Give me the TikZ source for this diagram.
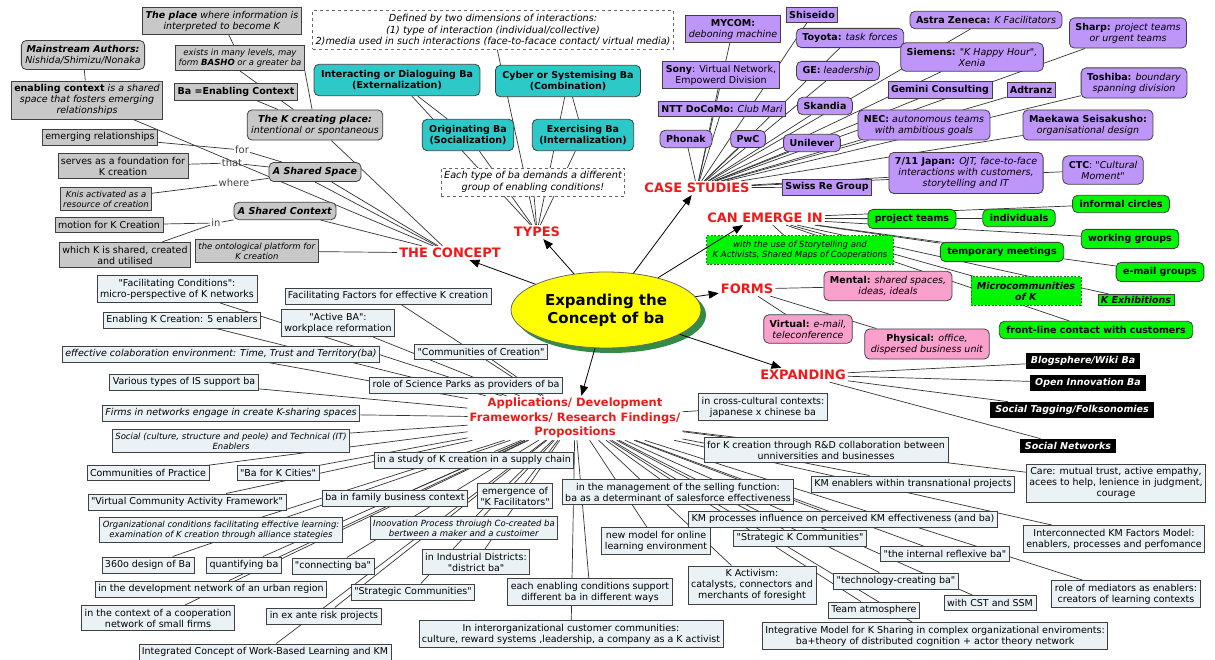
\documentclass[tikz,border=0pt]{standalone}
\usepackage{fontspec}
\setmainfont{DejaVu Sans}[Ligatures=TeXOff]
\usetikzlibrary{arrows.meta,shapes.geometric,shadows,backgrounds}

\definecolor{graybg}{RGB}{200,200,200}
\definecolor{tealbg}{RGB}{45,200,200}
\definecolor{purplebg}{RGB}{190,150,250}
\definecolor{greenbg}{RGB}{0,245,0}
\definecolor{pinkbg}{RGB}{250,160,205}
\definecolor{palebg}{RGB}{234,242,246}
\definecolor{headred}{RGB}{240,25,25}
\definecolor{yellowbg}{RGB}{255,255,0}
\definecolor{shadowgreen}{RGB}{50,140,70}

\tikzset{
  base/.style={draw=black!75, line width=0.8pt, align=center, inner xsep=3pt, inner ysep=3.5pt, font=\fontsize{9.5}{11}\selectfont},
  smalltext/.style={font=\fontsize{8.5}{10}\selectfont},
  grayrect/.style={base, fill=graybg},
  grayround/.style={base, fill=graybg, rounded corners=5pt, inner xsep=4pt, inner ysep=5pt},
  linkword/.style={font=\fontsize{10}{11}\selectfont, text=black!75, inner sep=1pt},
  head/.style={text=headred, inner sep=2pt, font=\bfseries\fontsize{13}{15}\selectfont},
  note/.style={base, draw=black!60, dashed, fill=white, font=\fontsize{9.7}{11.5}\selectfont\itshape},
  typebox/.style={base, fill=tealbg, rounded corners=5pt, inner xsep=7pt, inner ysep=6pt, font=\bfseries\fontsize{9.5}{11}\selectfont},
  caserect/.style={base, fill=purplebg},
  caseround/.style={base, fill=purplebg, rounded corners=5pt, inner xsep=6pt, inner ysep=5pt},
  emergebox/.style={base, fill=greenbg, rounded corners=5pt, inner xsep=7pt, inner ysep=5pt, font=\bfseries\fontsize{9.5}{11}\selectfont},
  emergenote/.style={base, fill=greenbg, draw=green!55!black, dash pattern=on 2pt off 1.5pt, inner xsep=6pt, inner ysep=5pt},
  formbox/.style={base, fill=pinkbg, rounded corners=5pt, inner xsep=6pt, inner ysep=5pt},
  expbox/.style={fill=black, text=white, inner xsep=5pt, inner ysep=3.5pt, font=\bfseries\itshape\fontsize{9.5}{11}\selectfont},
  appbox/.style={base, fill=palebg},
  link/.style={draw=black!80, line width=0.7pt},
}

\begin{document}
\begin{tikzpicture}[x=1pt, y=-1pt, >={Triangle[length=10pt,width=8pt]}]
\useasboundingbox (0,0) rectangle (1215,660);

% the concept
\node[grayrect] (place) at (222,21) {\textbf{\textit{The place}} \textit{where information is}\\\textit{interpreted to become K}};
\node[grayround] (authors) at (83,55) {\textbf{\textit{Mainstream Authors:}}\\\textit{Nishida/Shimizu/Nonaka}};
\node[grayrect, smalltext] (exists) at (240,58) {\textit{exists in many levels, may}\\\textit{form \textbf{BASHO} or a greater ba}};
\node[grayrect] (enabling) at (87,100) {\textbf{enabling context} \textit{is a shared}\\\textit{space that fosters emerging}\\\textit{relationships}};
\node[grayrect] (baec) at (236,92) {\textbf{Ba =Enabling Context}};
\node[grayround] (kplace) at (315,125) {\textbf{\textit{The K creating place:}}\\\textit{intentional or spontaneous}};
\node[grayrect] (emerging) at (100,137) {emerging relationships};
\node[grayrect] (serves) at (123,166) {serves as a foundation for\\K creation};
\node[grayrect, smalltext] (knis) at (106,199) {\textit{Knis activated as a}\\\textit{resource of creation}};
\node[grayround] (space) at (315,172) {\textbf{\textit{A Shared Space}}};
\node[grayround] (context) at (285,211) {\textbf{\textit{A Shared Context}}};
\node[grayrect] (motion) at (109,225) {motion for K Creation};
\node[grayrect] (which) at (125,255) {which K is shared, created\\and utilised};
\node[grayrect, smalltext] (onto) at (257,251) {\textit{the ontological platform for}\\\textit{K creation}};
\node[linkword] (for) at (242,150) {for};
\node[linkword] (that) at (232,163) {that};
\node[linkword] (where) at (234,183) {where};
\node[linkword] (in) at (216,223) {in};
\node[head] (concept) at (450,253) {THE CONCEPT};

% types
\node[note] (defined) at (493,30) {Defined by two dimensions of interactions:\\(1) type of interaction (individual/collective)\\2)media used in such interactions (face-to-facace contact/ virtual media)};
\node[typebox] (interact) at (397,80) {Interacting or Dialoguing Ba\\(Externalization)};
\node[typebox] (cyber) at (568,81) {Cyber or Systemising Ba\\(Combination)};
\node[typebox] (origin) at (468,135) {Originating Ba\\(Socialization)};
\node[typebox] (exercise) at (583,135) {Exercising Ba\\(Internalization)};
\node[note] (eachtype) at (533,182) {Each type of ba demands a different\\group of enabling conditions!};
\node[head] (types) at (537,232) {TYPES};

% centre
\node[ellipse, draw=black!60, line width=0.8pt, fill=yellowbg, minimum width=190pt, minimum height=76pt, align=center,
  drop shadow={shadow xshift=5pt, shadow yshift=-5pt, fill=shadowgreen, opacity=1},
  font=\bfseries\fontsize{15}{18}\selectfont] (ba) at (606,310) {Expanding the\\Concept of ba};

% case studies
\node[head] (case) at (697,188) {CASE STUDIES};
\node[caserect] (mycom) at (733,29) {\textbf{MYCOM:}\\\textit{deboning machine}};
\node[caserect] (shiseido) at (812,15) {\textbf{Shiseido}};
\node[caseround] (toyota) at (850,38) {\textbf{Toyota:} \textit{task forces}};
\node[caserect] (sony) at (721,75) {\textbf{Sony}: Virtual Network,\\Empowerd Division};
\node[caseround] (ge) at (838,71) {\textbf{GE:} \textit{leadership}};
\node[caserect] (docomo) at (722,109) {\textbf{NTT DoCoMo:} \textit{Club Mari}};
\node[caseround] (skandia) at (825,106) {\textbf{Skandia}};
\node[caserect] (gemini) at (940,90) {\textbf{Gemini Consulting}};
\node[caserect] (adtranz) at (1031,90) {\textbf{Adtranz}};
\node[caseround] (astra) at (986,20) {\textbf{Astra Zeneca:} \textit{K Facilitators}};
\node[caseround] (sharp) at (1128,33) {\textbf{Sharp:} \textit{project teams}\\\textit{or urgent teams}};
\node[caseround] (siemens) at (972,57) {\textbf{Siemens:} \textit{"K Happy Hour",}\\\textit{Xenia}};
\node[caseround] (toshiba) at (1134,83) {\textbf{Toshiba:} \textit{boundary}\\\textit{spanning division}};
\node[caseround] (nec) at (924,125) {\textbf{NEC:} \textit{autonomous teams}\\\textit{with ambitious goals}};
\node[caseround] (maekawa) at (1088,125) {\textbf{Maekawa Seisakusho:}\\\textit{organisational design}};
\node[caseround] (phonak) at (686,139) {\textbf{Phonak}};
\node[caseround] (pwc) at (748,139) {\textbf{PwC}};
\node[caseround] (unilever) at (812,143) {\textbf{Unilever}};
\node[caseround] (seven) at (966,173) {\textbf{7/11 Japan:} \textit{OJT, face-to-face}\\\textit{interactions with customers,}\\\textit{storytelling and IT}};
\node[caseround] (ctc) at (1103,170) {\textbf{CTC}: \textit{"Cultural}\\\textit{Moment"}};
\node[caserect] (swiss) at (827,187) {\textbf{Swiss Re Group}};

% can emerge in
\node[head] (emerge) at (765,218) {CAN EMERGE IN};
\node[emergebox] (project) at (912,219) {project teams};
\node[emergebox] (individuals) at (1019,218) {individuals};
\node[emergebox] (informal) at (1121,204) {informal circles};
\node[emergebox] (working) at (1130,239) {working groups};
\node[emergebox] (temporary) at (1002,252) {temporary meetings};
\node[emergebox] (email) at (1160,272) {e-mail groups};
\node[emergenote, smalltext] (story) at (800,250) {\textit{with the use of Storytelling and}\\\textit{K Activists, Shared Maps of Cooperations}};
\node[emergenote] (micro) at (1026,291) {\textbf{\textit{Microcommunities}}\\\textbf{\textit{of K}}};
\node[base, fill=greenbg, inner ysep=2pt] (exhib) at (1136,300) {\textbf{\textit{K Exhibitions}}};
\node[emergebox] (frontline) at (1096,330) {front-line contact with customers};

% forms
\node[head] (forms) at (747,289) {FORMS};
\node[formbox] (mental) at (888,286) {\textbf{Mental:} \textit{shared spaces,}\\\textit{ideas, ideals}};
\node[formbox] (virtual) at (808,329) {\textbf{Virtual:} \textit{e-mail,}\\\textit{teleconference}};
\node[formbox] (physical) at (927,344) {\textbf{Physical:} \textit{office,}\\\textit{dispersed business unit}};

% expanding
\node[head] (expanding) at (803,375) {EXPANDING};
\node[expbox] (blog) at (1083,361) {Blogsphere/Wiki Ba};
\node[expbox] (openinno) at (1088,383) {Open Innovation Ba};
\node[expbox] (tagging) at (1072,410) {Social Tagging/Folksonomies};
\node[expbox] (socnet) at (1068,446) {Social Networks};

% applications
\node[head, font=\bfseries\fontsize{11.5}{14.5}\selectfont, align=center] (app) at (575,418) {Applications/ Development\\Frameworks/ Research Findings/\\Propositions};
\node[appbox] (facilcond) at (177,289) {"Facilitating Conditions":\\micro-perspective of K networks};
\node[appbox] (facfactors) at (388,296) {Facilitating Factors for effective K creation};
\node[appbox] (enablingk) at (182,320) {Enabling K Creation: 5 enablers};
\node[appbox] (activeba) at (338,323) {"Active BA":\\workplace reformation};
\node[appbox] (collab) at (221,354) {\textit{effective colaboration environment: Time, Trust and Territory(ba)}};
\node[appbox] (commcreation) at (481,352) {"Communities of Creation"};
\node[appbox] (istypes) at (184,382) {Various types of IS support ba};
\node[appbox] (sciparks) at (466,385) {role of Science Parks as providers of ba};
\node[appbox] (firms) at (231,413) {\textit{Firms in networks engage in create K-sharing spaces}};
\node[appbox] (crosscult) at (763,407) {in cross-cultural contexts:\\japanese x chinese ba};
\node[appbox, smalltext] (sociotech) at (231,441) {\textit{Social (culture, structure and peole) and Technical (IT)}\\\textit{Enablers}};
\node[appbox] (cop) at (148,473) {Communities of Practice};
\node[appbox] (kcities) at (278,473) {"Ba for K Cities"};
\node[appbox] (supply) at (474,460) {in a study of K creation in a supply chain};
\node[appbox] (rnd) at (826,450) {for K creation through R\&D collaboration between\\unniversities and businesses};
\node[appbox] (care) at (1116,483) {Care: mutual trust, active empathy,\\acees to help, lenience in judgment,\\courage};
\node[appbox] (vcaf) at (187,502) {"Virtual Community Activity Framework"};
\node[appbox] (family) at (395,498) {ba in family business context};
\node[appbox] (kfacil) at (515,496) {emergence of\\"K Facilitators"};
\node[appbox] (selling) at (678,492) {in the management of the selling function:\\ba as a determinant of salesforce effectiveness};
\node[appbox] (transnat) at (913,484) {KM enablers within transnational projects};
\node[appbox, smalltext] (orgcond) at (221,530) {\textit{Organizational conditions facilitating effective learning:}\\\textit{examination of K creation through alliance stategies}};
\node[appbox, smalltext] (innov) at (464,528) {\textit{Inoovation Process throiugh Co-created ba}\\\textit{bertween a maker and a custoimer}};
\node[appbox] (kmproc) at (843,519) {KM processes influence on perceived KM effectiveness (and ba)};
\node[appbox] (interconn) at (1114,539) {Interconnected KM Factors Model:\\enablers, processes and perfomance};
\node[appbox] (online) at (656,541) {new model for online\\learning environment};
\node[appbox] (strategk) at (800,538) {"Strategic K Communities"};
\node[appbox] (reflexive) at (945,554) {"the internal reflexive ba"};
\node[appbox] (design) at (148,565) {360o design of Ba};
\node[appbox] (quant) at (244,565) {quantifying ba};
\node[appbox] (connecting) at (333,566) {"connecting ba"};
\node[appbox] (district) at (476,562) {in Industrial Districts:\\"district ba"};
\node[appbox] (activism) at (752,585) {K Activism:\\catalysts, connectors and\\merchants of foresight};
\node[appbox] (techba) at (896,581) {"technology-creating ba"};
\node[appbox] (urban) at (211,589) {in the development network of an urban region};
\node[appbox] (stratcomm) at (413,592) {"Strategic Communities"};
\node[appbox] (eachcond) at (590,592) {each enabling conditions support\\different ba in different ways};
\node[appbox] (mediators) at (1126,594) {role of mediators as enablers:\\creators of learning contexts};
\node[appbox] (cst) at (990,603) {with CST and SSM};
\node[appbox] (smallfirms) at (158,618) {in the context of a cooperation\\network of small firms};
\node[appbox] (exante) at (324,616) {in ex ante risk projects};
\node[appbox] (team) at (874,610) {Team atmosphere};
\node[appbox] (interorg) at (571,634) {In interorganizational customer communities:\\culture, reward systems ,leadership, a company as a K activist};
\node[appbox] (integrative) at (935,636) {Integrative Model for K Sharing in complex organizational enviroments:\\ba+theory of distributed cognition + actor theory network};
\node[appbox] (workbased) at (265,652) {Integrated Concept of Work-Based Learning and KM};

\begin{scope}[on background layer, every path/.style={link}]
% concept links
\draw (place)--(exists);
\draw (authors)--(enabling);
\draw (exists.south)--(kplace);
\draw (exists.south east)--(kplace);
\draw (baec)--(kplace);
\draw (enabling)--(concept);
\draw (kplace)--(concept);
\draw (space)--(concept);
\draw (space.south)--(concept);
\draw (context)--(concept);
\draw (onto)--(concept);
\draw (emerging)--(for);
\draw (for)--(space);
\draw (serves)--(that);
\draw (that)--(space);
\draw (knis)--(where);
\draw (where)--(space);
\draw (motion)--(in);
\draw (which)--(in);
\draw (in)--(context);
% types links
\draw (defined)--(types);
\draw (interact)--(origin);
\draw (cyber)--(exercise);
\draw (interact)--(types);
\draw (cyber)--(types);
\draw (origin)--(types);
\draw (exercise)--(types);
\draw (eachtype)--(types);
% case links
\draw (mycom)--(case);
\draw (shiseido)--(case);
\draw (toyota)--(case);
\draw (sony)--(case);
\draw (ge)--(case);
\draw (docomo)--(case);
\draw (skandia)--(case);
\draw (gemini)--(case);
\draw (adtranz)--(case);
\draw (astra)--(case);
\draw (sharp)--(case);
\draw (siemens)--(case);
\draw (toshiba)--(case);
\draw (nec)--(case);
\draw (maekawa)--(case);
\draw (phonak)--(case);
\draw (pwc)--(case);
\draw (unilever)--(case);
\draw (seven)--(case);
\draw (ctc)--(case);
\draw (swiss)--(case);
% emerge links
\draw (emerge)--(project);
\draw (emerge)--(individuals);
\draw (emerge)--(informal);
\draw (emerge)--(working);
\draw (emerge)--(temporary);
\draw (emerge)--(email);
\draw (emerge)--(story);
\draw (emerge)--(micro);
\draw (emerge)--(exhib);
\draw (emerge)--(frontline);
% forms links
\draw (forms)--(mental);
\draw (forms)--(virtual);
\draw (forms)--(physical);
% expanding links
\draw (expanding)--(blog);
\draw (expanding)--(openinno);
\draw (expanding)--(tagging);
\draw (expanding)--(socnet);
% application links
\draw (app)--(facilcond);
\draw (app)--(facfactors);
\draw (app)--(enablingk);
\draw (app)--(activeba);
\draw (app)--(collab);
\draw (app)--(commcreation);
\draw (app)--(istypes);
\draw (app)--(sciparks);
\draw (app)--(firms);
\draw (app)--(crosscult);
\draw (app)--(sociotech);
\draw (app)--(cop);
\draw (app)--(kcities);
\draw (app)--(supply);
\draw (app)--(rnd);
\draw (app)--(care);
\draw (app)--(vcaf);
\draw (app)--(family);
\draw (app)--(kfacil);
\draw (app)--(selling);
\draw (app)--(transnat);
\draw (app)--(orgcond);
\draw (app)--(innov);
\draw (app)--(kmproc);
\draw (app)--(interconn);
\draw (app)--(online);
\draw (app)--(strategk);
\draw (app)--(reflexive);
\draw (app)--(design);
\draw (app)--(quant);
\draw (app)--(connecting);
\draw (app)--(district);
\draw (app)--(activism);
\draw (app)--(techba);
\draw (app)--(urban);
\draw (app)--(stratcomm);
\draw (app)--(eachcond);
\draw (app)--(mediators);
\draw (app)--(cst);
\draw (app)--(smallfirms);
\draw (app)--(exante);
\draw (app)--(team);
\draw (app)--(interorg);
\draw (app)--(integrative);
\draw (app)--(workbased);
\end{scope}

% arrows from the centre
\draw [->, line width=0.8pt] (ba)--(concept);
\draw [->, line width=0.8pt] (ba)--(types);
\draw [->, line width=0.8pt] (ba)--(case);
\draw [->, line width=0.8pt] (ba)--([xshift=-22pt]emerge.south);
\draw [->, line width=0.8pt] (ba)--(forms);
\draw [->, line width=0.8pt] (ba)--(expanding);
\draw [->, line width=0.8pt] (ba)--(app);
\end{tikzpicture}
\end{document}
